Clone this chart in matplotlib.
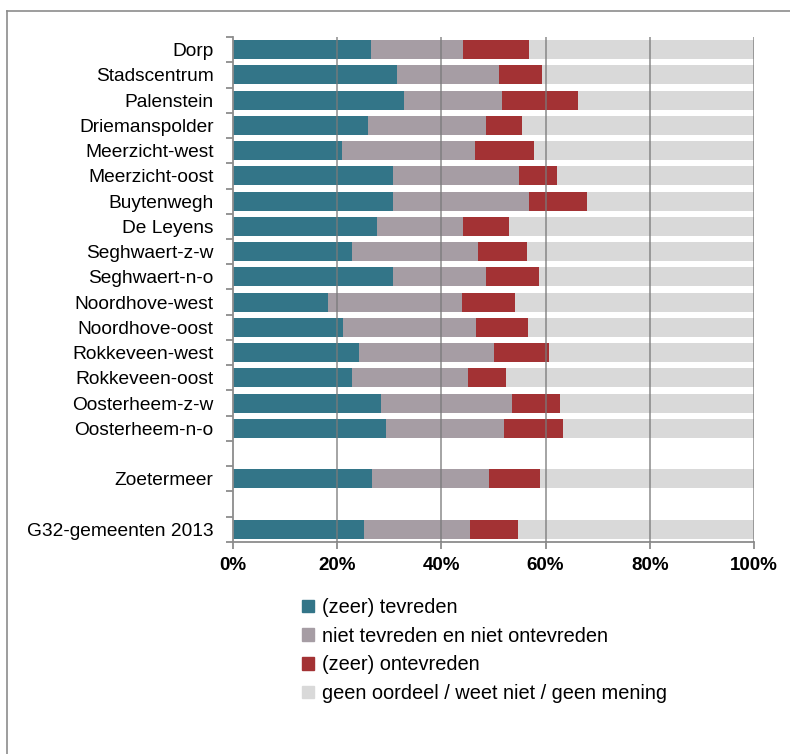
import numpy as np
import matplotlib
matplotlib.use("Agg")
import matplotlib.pyplot as plt
from matplotlib.patches import Patch
from matplotlib.lines import Line2D

plt.rcParams.update({
    "font.family": ["Liberation Sans", "DejaVu Sans"],
    "font.size": 14,
})

wijken = ["Dorp", "Stadscentrum", "Palenstein", "Driemanspolder", "Meerzicht-west",
          "Meerzicht-oost", "Buytenwegh", "De Leyens", "Seghwaert-z-w", "Seghwaert-n-o",
          "Noordhove-west", "Noordhove-oost", "Rokkeveen-west", "Rokkeveen-oost",
          "Oosterheem-z-w", "Oosterheem-n-o", "Zoetermeer", "G32-gemeenten 2013"]
# y slots (gaps before Zoetermeer and G32)
slots = list(range(16)) + [17, 19]

tevreden = [26.5, 31.4, 32.9, 25.9, 21.0, 30.8, 30.8, 27.7, 22.9, 30.8,
            18.3, 21.2, 24.1, 22.9, 28.5, 29.4, 26.7, 25.2]
neutraal = [17.7, 19.6, 18.7, 22.6, 25.4, 24.1, 26.1, 16.4, 24.1, 17.7,
            25.6, 25.5, 26.0, 22.3, 25.0, 22.6, 22.4, 20.3]
ontevreden = [12.7, 8.3, 14.6, 6.9, 11.4, 7.2, 11.0, 8.8, 9.5, 10.3,
              10.3, 10.0, 10.5, 7.3, 9.2, 11.4, 9.9, 9.2]
series_labels = ["(zeer) tevreden", "niet tevreden en niet ontevreden",
                 "(zeer) ontevreden", "geen oordeel / weet niet / geen mening"]
colors = ["#337588", "#A69DA4", "#A33234", "#D9D9D9"]

t = np.array(tevreden)
n = np.array(neutraal)
o = np.array(ontevreden)
rest = 100 - t - n - o

fig = plt.figure(figsize=(7.9, 7.54), dpi=100)
ax = fig.add_axes([0.2949, 0.2812, 0.6595, 0.6697])

left = np.zeros(len(wijken))
for vals, c in zip([t, n, o, rest], colors):
    ax.barh(slots, vals, left=left, height=0.75, color=c, zorder=1)
    left = left + vals

ax.set_xlim(0, 100)
ax.set_ylim(19.5, -0.5)
ax.set_xticks([0, 20, 40, 60, 80, 100])
ax.set_xticklabels(["0%", "20%", "40%", "60%", "80%", "100%"], fontweight="bold", fontsize=13.5)
for x in [20, 40, 60, 80, 100]:
    ax.axvline(x, color="#7a7a7a", lw=1.2, alpha=0.8, zorder=3)

ax.set_yticks(slots)
ax.set_yticklabels(wijken, fontsize=13.8)
ax.tick_params(axis="y", which="major", length=0, pad=14)
ax.set_yticks(np.arange(-0.5, 20, 1), minor=True)
ax.tick_params(axis="y", which="minor", length=5, color="#8c8c8c", width=1.3)
ax.tick_params(axis="x", length=5, color="#8c8c8c", width=1.3, pad=6)
for s in ["top", "right"]:
    ax.spines[s].set_visible(False)
for s in ["left", "bottom"]:
    ax.spines[s].set_color("#8c8c8c")
    ax.spines[s].set_linewidth(1.3)

handles = [Patch(color=c) for c in colors]
fig.legend(handles, series_labels, loc="upper left", bbox_to_anchor=(0.37, 0.22),
           frameon=False, fontsize=14.4, handlelength=0.6, handleheight=0.6,
           handletextpad=0.4, labelspacing=0.48, borderpad=0)

# outer frame (top and left edges visible)
fig.add_artist(Line2D([7 / 790, 1.0], [1 - 11 / 754, 1 - 11 / 754], color="#8c8c8c", lw=1.2))
fig.add_artist(Line2D([7 / 790, 7 / 790], [0.0, 1 - 11 / 754], color="#8c8c8c", lw=1.2))

fig.savefig("out.png", dpi=100)
